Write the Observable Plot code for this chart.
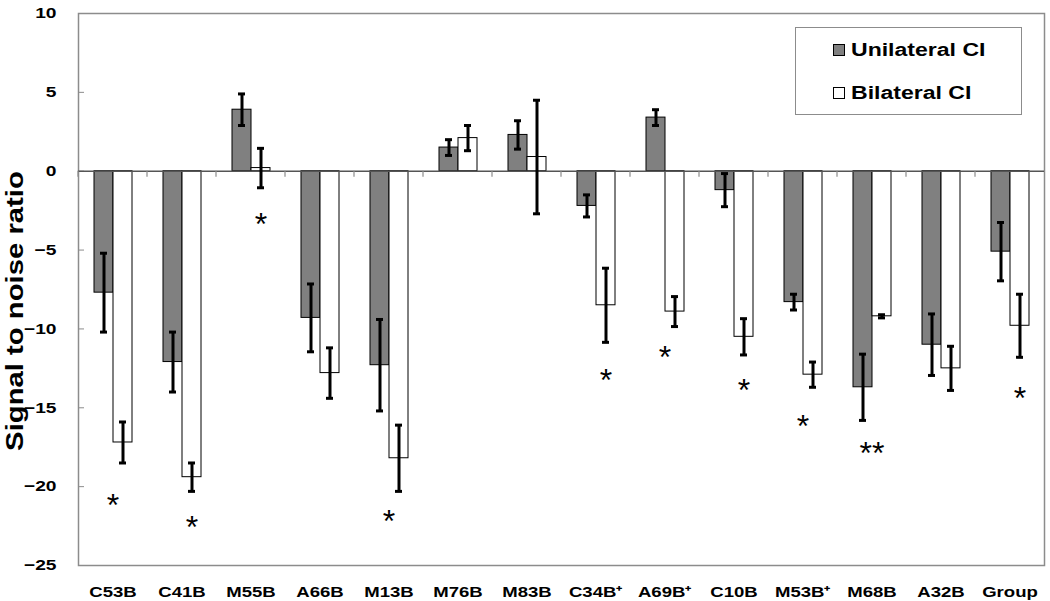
<!DOCTYPE html>
<html>
<head>
<meta charset="utf-8">
<script src="https://cdn.jsdelivr.net/npm/d3@7"></script>
<script src="https://cdn.jsdelivr.net/npm/@observablehq/plot@0.6"></script>
<style>
  body { margin: 0; background: #fff; }
  #wrap { position: relative; width: 1050px; height: 601px; font-family: "Liberation Sans", Arial, sans-serif; }
  #legend { position: absolute; left: 795px; top: 27px; width: 227px; height: 88px; border: 1.5px solid #8c8c8c; background: #fff; box-sizing: border-box; }
  .item { position: absolute; left: 37px; height: 20px; display: flex; align-items: center; }
  .sw { width: 12px; height: 12px; border: 1px solid #000; box-sizing: border-box; margin-right: 6px; }
  .lab { font-weight: bold; font-size: 18px; color: #000; transform: scaleX(1.28); transform-origin: left center; white-space: nowrap; }
</style>
</head>
<body>
<div id="wrap"></div>
<script>
// ---- data ----
const categories = ["C53B","C41B","M55B","A66B","M13B","M76B","M83B","C34B⁺","A69B⁺","C10B","M53B⁺","M68B","A32B","Group"];
const seriesNames = ["Unilateral CI","Bilateral CI"];
const unilateral    = [-7.7, -12.1, 3.9, -9.3, -12.3, 1.5, 2.3, -2.2, 3.4, -1.2, -8.3, -13.7, -11.0, -5.1];
const unilateralErr = [2.5, 1.9, 1.0, 2.15, 2.9, 0.5, 0.9, 0.7, 0.5, 1.05, 0.5, 2.1, 1.95, 1.85];
const bilateral     = [-17.2, -19.4, 0.2, -12.8, -18.2, 2.1, 0.9, -8.5, -8.9, -10.5, -12.9, -9.2, -12.5, -9.8];
const bilateralErr  = [1.3, 0.9, 1.25, 1.6, 2.1, 0.8, 3.6, 2.35, 0.95, 1.15, 0.8, 0.1, 1.4, 2.0];
const yTicks = [-25, -20, -15, -10, -5, 0, 5, 10];
const yLabel = "Signal to noise ratio";
// significance markers
const starCats = ["C53B","C41B","M55B","M13B","C34B⁺","A69B⁺","C10B","M53B⁺","M68B","Group"];
const starText = ["*","*","*","*","*","*","*","*","**","*"];
const starY    = [-20.7, -22.1, -2.9, -21.7, -12.8, -11.3, -13.4, -15.7, -17.4, -13.9];
const starOver = ["mid","Bilateral CI","Bilateral CI","mid","Bilateral CI","mid","Bilateral CI","mid","mid","Bilateral CI"];

// ---- tables built from the arrays ----
const rows = categories.flatMap((c, i) => [
  {cat: c, series: seriesNames[0], value: unilateral[i], err: unilateralErr[i]},
  {cat: c, series: seriesNames[1], value: bilateral[i], err: bilateralErr[i]}
]);
const stars = starCats.map((c, i) => ({cat: c, text: starText[i], y: starY[i], over: starOver[i]}));

const boundaryTicks = (index, scales, values, dimensions) => {
  const y0 = scales.y(0);
  const x = dimensions.marginLeft;
  return d3.create("svg:line")
    .attr("x1", x).attr("x2", x).attr("y1", y0).attr("y2", y0 + 6)
    .attr("stroke", "#8c8c8c").attr("stroke-width", 1.2).node();
};

const chart = Plot.plot({
  width: 1050, height: 601,
  marginLeft: 76, marginRight: 5, marginTop: 13, marginBottom: 36,
  style: {fontFamily: "'Liberation Sans', Arial, sans-serif", background: "white", color: "black"},
  fx: {domain: categories, paddingInner: 0, paddingOuter: 0, label: null},
  x: {domain: seriesNames, paddingInner: 0, paddingOuter: 0.775, axis: null},
  y: {domain: [-25, 10], label: null},
  color: {domain: seriesNames, range: ["#808080", "#ffffff"]},
  marks: [
    Plot.frame({facet: "super", stroke: "#8c8c8c", strokeWidth: 1.5}),
    Plot.axisY(yTicks, {tickSize: -6, tickPadding: 28, fontSize: 15, fontWeight: "bold", stroke: "#8c8c8c", label: null}),
    Plot.axisFx({anchor: "bottom", tickSize: 0, tickPadding: 21, fontSize: 14.5, fontWeight: "bold", label: null}),
    Plot.barY(rows, {fx: "cat", x: "series", y: "value", fill: "series", stroke: "black", strokeWidth: 1}),
    Plot.ruleY([0], {stroke: "#555", strokeWidth: 1.5}),
    boundaryTicks,
    Plot.ruleX(rows, {fx: "cat", x: "series", y1: d => d.value - d.err, y2: d => d.value + d.err, stroke: "black", strokeWidth: 3}),
    Plot.tickY(rows, {fx: "cat", x: "series", y: d => d.value + d.err, stroke: "black", strokeWidth: 3, insetLeft: 6, insetRight: 6}),
    Plot.tickY(rows, {fx: "cat", x: "series", y: d => d.value - d.err, stroke: "black", strokeWidth: 3, insetLeft: 6, insetRight: 6}),
    Plot.text(stars.filter(d => d.over === "mid"), {fx: "cat", y: "y", text: "text", fontSize: 32, dy: 8, fill: "black"}),
    Plot.text(stars.filter(d => d.over !== "mid"), {fx: "cat", x: "over", y: "y", text: "text", fontSize: 32, dy: 8, fill: "black"})
  ]
});

const wrap = document.getElementById("wrap");
wrap.appendChild(chart);

// y-axis title (elongated along its reading direction, like the other texts)
d3.select(chart).append("text")
  .attr("transform", "translate(15,311) rotate(-90) scale(1.22,1)")
  .attr("text-anchor", "middle").attr("dominant-baseline", "central")
  .attr("font-family", "'Liberation Sans', Arial, sans-serif")
  .attr("font-weight", "bold").attr("font-size", 24).attr("fill", "black")
  .text(yLabel);

// widen axis tick labels horizontally to match the reference's aspect
const sx = 1.28;
chart.querySelectorAll('g[aria-label="y-axis tick label"] text, g[aria-label="fx-axis tick label"] text').forEach(el => {
  const bb = el.getBBox();
  const anchor = getComputedStyle(el).textAnchor;
  const x0 = anchor === "end" ? bb.x + bb.width : anchor === "start" ? bb.x : bb.x + bb.width / 2;
  const t = el.getAttribute("transform") || "";
  el.setAttribute("transform", `${t} translate(${x0},0) scale(${sx},1) translate(${-x0},0)`);
});

// legend
const legend = d3.select(wrap).append("div").attr("id", "legend");
seriesNames.forEach((s, i) => {
  const it = legend.append("div").attr("class", "item").style("top", (i === 0 ? 12 : 55) + "px");
  it.append("div").attr("class", "sw").style("background", i === 0 ? "#808080" : "#ffffff");
  it.append("div").attr("class", "lab").text(s);
});
</script>
</body>
</html>
